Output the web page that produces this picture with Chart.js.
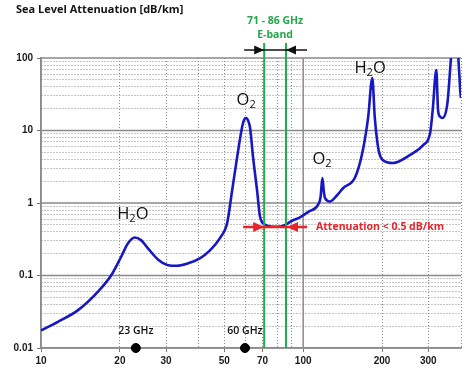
<!DOCTYPE html>
<html>
<head>
<meta charset="utf-8">
<script src="https://cdn.jsdelivr.net/npm/chart.js@4.4.1/dist/chart.umd.min.js"></script>
<style>
  html, body { margin: 0; padding: 0; background: #ffffff; }
  canvas { display: block; }
</style>
</head>
<body>
<canvas id="c" width="473" height="371"></canvas>
<script>
// ---- data ----
const freqGHz = [10, 11.6, 13.8, 16.5, 18.5, 20.2, 21.5, 22.8, 24, 25.4, 28, 30.3, 33, 36, 40.5, 44, 48.2,
  51.3, 53.6, 56, 58.5, 59.6, 60.6, 61.7, 62.7, 64.4, 66.7, 68.5, 71.7, 75, 79.5, 85.4, 90, 97.6, 105,
  113.9, 116.5, 118.4, 120, 121.2, 126.7, 134.9, 142.2, 158, 169, 177, 183.5, 187.6, 192.6, 196, 200, 209, 220,
  256, 287, 305, 312, 322, 327, 333, 340, 355, 366, 380, 394, 398, 400];
const attenDbKm = [0.0175, 0.023, 0.033, 0.060, 0.10, 0.18, 0.28, 0.335, 0.31, 0.245, 0.165, 0.14, 0.136, 0.145, 0.174, 0.22, 0.33,
  0.53, 1.5, 4.3, 11.2, 14.2, 14.9, 13.6, 11, 4.3, 1.5, 0.64, 0.50, 0.475, 0.47, 0.50, 0.56, 0.64, 0.76,
  0.94, 1.2, 2.2, 1.4, 1.17, 1.05, 1.29, 1.61, 2.29, 5.4, 15.3, 53, 15, 6.2, 4.6, 4.0, 3.65, 3.56,
  4.6, 6.3, 9.25, 19.2, 68, 19, 15.5, 14.9, 23.9, 95, 400, 60, 33, 28];
const markerFreqs = [23, 60];
const markerLabels = ['23 GHz', '60 GHz'];
const eBandEdges = [71, 86];
const xTickValues = [10, 20, 30, 40, 50, 60, 70, 80, 90, 100, 200, 300, 400];
const xTickLabels = ['10', '20', '30', '', '50', '', '70', '', '', '100', '200', '300', ''];
const yTickValues = [0.01,0.02,0.03,0.04,0.05,0.06,0.07,0.08,0.09,
  0.1,0.2,0.3,0.4,0.5,0.6,0.7,0.8,0.9, 1,2,3,4,5,6,7,8,9, 10,20,30,40,50,60,70,80,90, 100];
const yDecades = [0.01, 0.1, 1, 10, 100];
const yDecadeLabels = ['0.01', '0.1', '1', '10', '100'];
const xDecades = [10, 100];

const GRID = '#8a8a8a';
const isXDecade = v => xDecades.some(d => Math.abs(d - v) < 1e-9);
const isYDecade = v => yDecades.some(d => Math.abs(d - v) / d < 1e-6);

function chem(ctx, parts, cx, cy) {
  const big = '16.5px "Open Sans"', small = '11px "Open Sans"';
  let w = 0;
  parts.forEach(p => { ctx.font = p.sub ? small : big; w += ctx.measureText(p.t).width; });
  let x = cx - w / 2;
  ctx.textBaseline = 'middle';
  ctx.textAlign = 'left';
  ctx.fillStyle = '#0d0d0d';
  parts.forEach(p => {
    ctx.font = p.sub ? small : big;
    ctx.fillText(p.t, x, p.sub ? cy + 4.5 : cy);
    x += ctx.measureText(p.t).width;
  });
}
function arrowHead(ctx, tipX, y, dir, len, half) {
  ctx.beginPath();
  ctx.moveTo(tipX, y);
  ctx.lineTo(tipX - dir * len, y - half);
  ctx.lineTo(tipX - dir * len, y + half);
  ctx.closePath();
  ctx.fill();
}

const annotate = {
  id: 'annotate',
  beforeDatasetsDraw(chart) {
    const {ctx, chartArea: a, scales: {x, y}} = chart;
    ctx.save();
    ctx.strokeStyle = GRID;
    ctx.lineWidth = 1.5;
    yDecades.forEach(v => {
      const py = y.getPixelForValue(v);
      ctx.beginPath(); ctx.moveTo(a.left, py); ctx.lineTo(a.right, py); ctx.stroke();
    });
    xDecades.forEach(v => {
      const px = x.getPixelForValue(v);
      ctx.beginPath(); ctx.moveTo(px, a.top); ctx.lineTo(px, a.bottom); ctx.stroke();
    });
    ctx.restore();
  },
  afterDatasetsDraw(chart) {
    const {ctx, chartArea: a, scales: {x, y}} = chart;
    const X = v => x.getPixelForValue(v), Y = v => y.getPixelForValue(v);
    ctx.save();
    // title
    ctx.font = 'bold 11px "Open Sans"';
    ctx.fillStyle = '#141414';
    ctx.textAlign = 'left'; ctx.textBaseline = 'middle';
    ctx.fillText('Sea Level Attenuation [dB/km]', 16, 10);

    // E-band green lines
    ctx.strokeStyle = '#1fae4b';
    ctx.lineWidth = 2;
    eBandEdges.forEach(f => {
      ctx.beginPath(); ctx.moveTo(X(f), Y(161)); ctx.lineTo(X(f), a.bottom); ctx.stroke();
    });
    const mid = Math.sqrt(eBandEdges[0] * eBandEdges[1]);
    ctx.fillStyle = '#22a84a';
    ctx.font = 'bold 10.5px "Open Sans"';
    ctx.textAlign = 'center';
    ctx.fillText('71 - 86 GHz', X(mid), Y(324));
    ctx.fillText('E-band', X(mid), Y(207));

    // black arrows
    const ya = Y(129);
    ctx.strokeStyle = '#111'; ctx.fillStyle = '#111'; ctx.lineWidth = 1.5;
    ctx.beginPath(); ctx.moveTo(X(eBandEdges[0]) - 20, ya); ctx.lineTo(X(eBandEdges[1]) + 21, ya); ctx.stroke();
    arrowHead(ctx, X(eBandEdges[0]), ya, 1, 10, 4.5);
    arrowHead(ctx, X(eBandEdges[1]), ya, -1, 10, 4.5);

    // red attenuation arrows
    const yr = Y(0.467);
    ctx.strokeStyle = '#e8232a'; ctx.fillStyle = '#e8232a'; ctx.lineWidth = 2.5;
    ctx.beginPath(); ctx.moveTo(X(eBandEdges[0]) - 21, yr); ctx.lineTo(X(eBandEdges[1]) + 21, yr); ctx.stroke();
    arrowHead(ctx, X(eBandEdges[0]), yr, 1, 11, 5);
    arrowHead(ctx, X(eBandEdges[1]) + 1, yr, -1, 11, 5);
    ctx.font = 'bold 10.5px "Open Sans"';
    ctx.textAlign = 'left';
    ctx.fillText('Attenuation < 0.5 dB/km', X(112), yr);

    // molecule labels
    chem(ctx, [{t:'O'},{t:'2',sub:true}], X(60.6), Y(26.4));
    chem(ctx, [{t:'H'},{t:'2',sub:true},{t:'O'}], X(180), Y(71.6));
    chem(ctx, [{t:'O'},{t:'2',sub:true}], X(118), Y(4.04));
    chem(ctx, [{t:'H'},{t:'2',sub:true},{t:'O'}], X(22.4), Y(0.705));

    // marker labels
    ctx.font = '600 10.5px "Open Sans"';
    ctx.fillStyle = '#111';
    ctx.textAlign = 'center'; ctx.textBaseline = 'middle';
    markerFreqs.forEach((f, i) => ctx.fillText(markerLabels[i], X(f), Y(0.0171)));
    ctx.restore();
  }
};

new Chart(document.getElementById('c'), {
  type: 'line',
  data: {
    datasets: [
      {
        data: freqGHz.map((f, i) => ({x: f, y: attenDbKm[i]})),
        borderColor: '#1717c4',
        borderWidth: 2.6,
        pointRadius: 0,
        cubicInterpolationMode: 'monotone',
        fill: false
      },
      {
        type: 'scatter',
        data: markerFreqs.map(f => ({x: f, y: 0.01})),
        pointRadius: 4.5,
        pointBackgroundColor: '#000',
        pointBorderColor: '#000',
        showLine: false,
        clip: false
      }
    ]
  },
  options: {
    responsive: false,
    devicePixelRatio: 1,
    animation: false,
    layout: { padding: { top: 58, right: 12, left: 0, bottom: 0 } },
    plugins: { legend: { display: false }, tooltip: { enabled: false }, title: { display: false } },
    scales: {
      x: {
        type: 'logarithmic', min: 10, max: 400,
        afterBuildTicks: s => { s.ticks = xTickValues.map(v => ({value: v})); },
        afterFit: s => { s.height = 23; },
        ticks: {
          autoSkip: false, maxRotation: 0, minRotation: 0, padding: 3,
          callback: (v, i) => xTickLabels[i],
          font: { family: '"Liberation Sans", Arial', size: 10, weight: 'bold' },
          color: '#1a1a1a'
        },
        grid: {
          color: c => (c.tick && isXDecade(c.tick.value)) ? 'rgba(0,0,0,0)' : GRID,
          lineWidth: 1,
          tickLength: 4,
          tickColor: c => (c.tick && xTickLabels[c.index]) ? '#777' : 'rgba(0,0,0,0)'
        },
        border: { display: true, color: GRID, width: 1.5, dash: [1, 2] }
      },
      y: {
        type: 'logarithmic', min: 0.01, max: 100,
        afterBuildTicks: s => { s.ticks = yTickValues.map(v => ({value: v})); },
        afterFit: s => { s.width = 41; },
        ticks: {
          autoSkip: false, padding: 4,
          callback: v => { const k = yDecades.findIndex(d => Math.abs(d - v) / d < 1e-6); return k >= 0 ? yDecadeLabels[k] : ''; },
          font: { family: '"Liberation Sans", Arial', size: 10, weight: 'bold' },
          color: '#1a1a1a'
        },
        grid: {
          color: c => (c.tick && isYDecade(c.tick.value)) ? 'rgba(0,0,0,0)' : GRID,
          lineWidth: 1,
          tickLength: 4,
          tickColor: c => (c.tick && isYDecade(c.tick.value)) ? '#777' : 'rgba(0,0,0,0)'
        },
        border: { display: true, color: GRID, width: 1.5, dash: [1, 2] }
      }
    }
  },
  plugins: [annotate]
});
</script>
</body>
</html>
